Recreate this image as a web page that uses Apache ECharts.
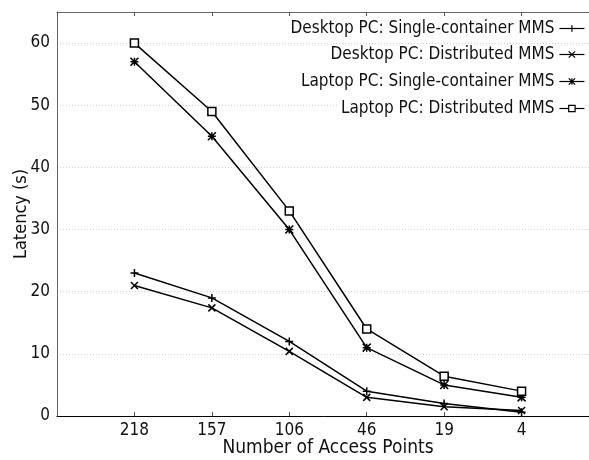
<!DOCTYPE html>
<html>
<head>
<meta charset="utf-8">
<script src="https://cdn.jsdelivr.net/npm/echarts@6/dist/echarts.min.js"></script>
<style>html,body{margin:0;padding:0;background:#fff;}#c{width:589px;height:460px;}</style>
</head>
<body>
<div id="c"></div>
<script>
const categories = ['218', '157', '106', '46', '19', '4'];
const seriesNames = [
  'Desktop PC: Single-container MMS',
  'Desktop PC: Distributed MMS',
  'Laptop PC: Single-container MMS',
  'Laptop PC: Distributed MMS'
];
const desktopSingle = [23, 19, 12, 4, 2, 0.6];
const desktopDistributed = [21, 17.4, 10.4, 3, 1.5, 0.9];
const laptopSingle = [57, 45, 30, 11, 5, 3];
const laptopDistributed = [60, 49, 33, 14, 6.4, 4];
const yTicks = [0, 10, 20, 30, 40, 50, 60];

const FONT = "'DejaVu Sans Condensed', 'DejaVu Sans', sans-serif";
const plus = 'path://M0,5L10,5M5,0L5,10';
const cross = 'path://M0,0L10,10M0,10L10,0';
const star = 'path://M0,0L10,10M0,10L10,0M0,5L10,5M5,0L5,10';
const square = 'path://M0,0L10,0L10,10L0,10Z';
const symbols = [plus, cross, star, square];
const sizes = [8, 7, 8, 8];
const allData = [desktopSingle, desktopDistributed, laptopSingle, laptopDistributed];

const chart = echarts.init(document.getElementById('c'));
const series = allData.map((arr, i) => ({
  name: seriesNames[i],
  type: 'line',
  data: arr.map((v, j) => [j + 1, v]),
  symbol: symbols[i],
  symbolSize: sizes[i],
  showAllSymbol: true,
  lineStyle: { color: '#000', width: 1.5 },
  itemStyle: { color: i === 2 ? '#000' : '#fff', borderColor: '#000', borderWidth: 1.5 },
  emphasis: { disabled: true },
  animation: false,
  z: 3
}));
const rowTops = [19, 45, 72, 99];
const legends = seriesNames.map((n, i) => ({
  data: [{ name: n, itemStyle: { borderWidth: 1.2 }, lineStyle: { width: 1.2 } }],
  right: 4,
  top: rowTops[i],
  align: 'right',
  orient: 'vertical',
  itemWidth: 25,
  itemHeight: 8,
  itemGap: 0,
  padding: [1, 0, 1, 2],
  backgroundColor: '#fff',
  textStyle: { fontFamily: FONT, fontSize: 17, color: '#111', padding: [0, 0, 0, 0] },
  selectedMode: false
}));

chart.setOption({
  animation: false,
  backgroundColor: '#fff',
  grid: { left: 57, right: -10, top: 12, bottom: 44, containLabel: false, outerBoundsMode: 'none' },
  legend: legends,
  xAxis: [{
    type: 'value', min: 0, max: 7, interval: 1,
    name: 'Number of Access Points', nameLocation: 'middle', nameGap: 23, nameMoveOverlap: false,
    nameTextStyle: { fontFamily: FONT, fontSize: 19, color: '#111' },
    axisLine: { show: true, lineStyle: { color: '#000', width: 1 } },
    axisTick: { show: true, inside: true, length: 4, lineStyle: { color: '#555' } },
    axisLabel: { fontFamily: FONT, fontSize: 17, color: '#111', margin: 6,
      formatter: v => categories[v - 1] || '' },
    splitLine: { show: false }
  }, {
    type: 'value', min: 0, max: 7, interval: 1, position: 'top',
    axisLine: { show: true, lineStyle: { color: '#666', width: 1 } },
    axisTick: { show: true, inside: true, length: 4, lineStyle: { color: '#555' } },
    axisLabel: { show: false },
    splitLine: { show: false }
  }],
  yAxis: {
    type: 'value', min: 0, max: 65, interval: 10,
    name: 'Latency (s)', nameLocation: 'middle', nameGap: 27, nameMoveOverlap: false,
    nameTextStyle: { fontFamily: FONT, fontSize: 18, color: '#111' },
    axisLine: { show: true, lineStyle: { color: '#666', width: 1 } },
    axisTick: { show: false },
    axisLabel: { fontFamily: FONT, fontSize: 17, color: '#111', margin: 7,
      formatter: v => yTicks.indexOf(v) >= 0 ? String(v) : '' },
    splitLine: { show: true, lineStyle: { color: '#d0d0d0', type: [1, 2], width: 1 } }
  },
  series: series
});
</script>
</body>
</html>
